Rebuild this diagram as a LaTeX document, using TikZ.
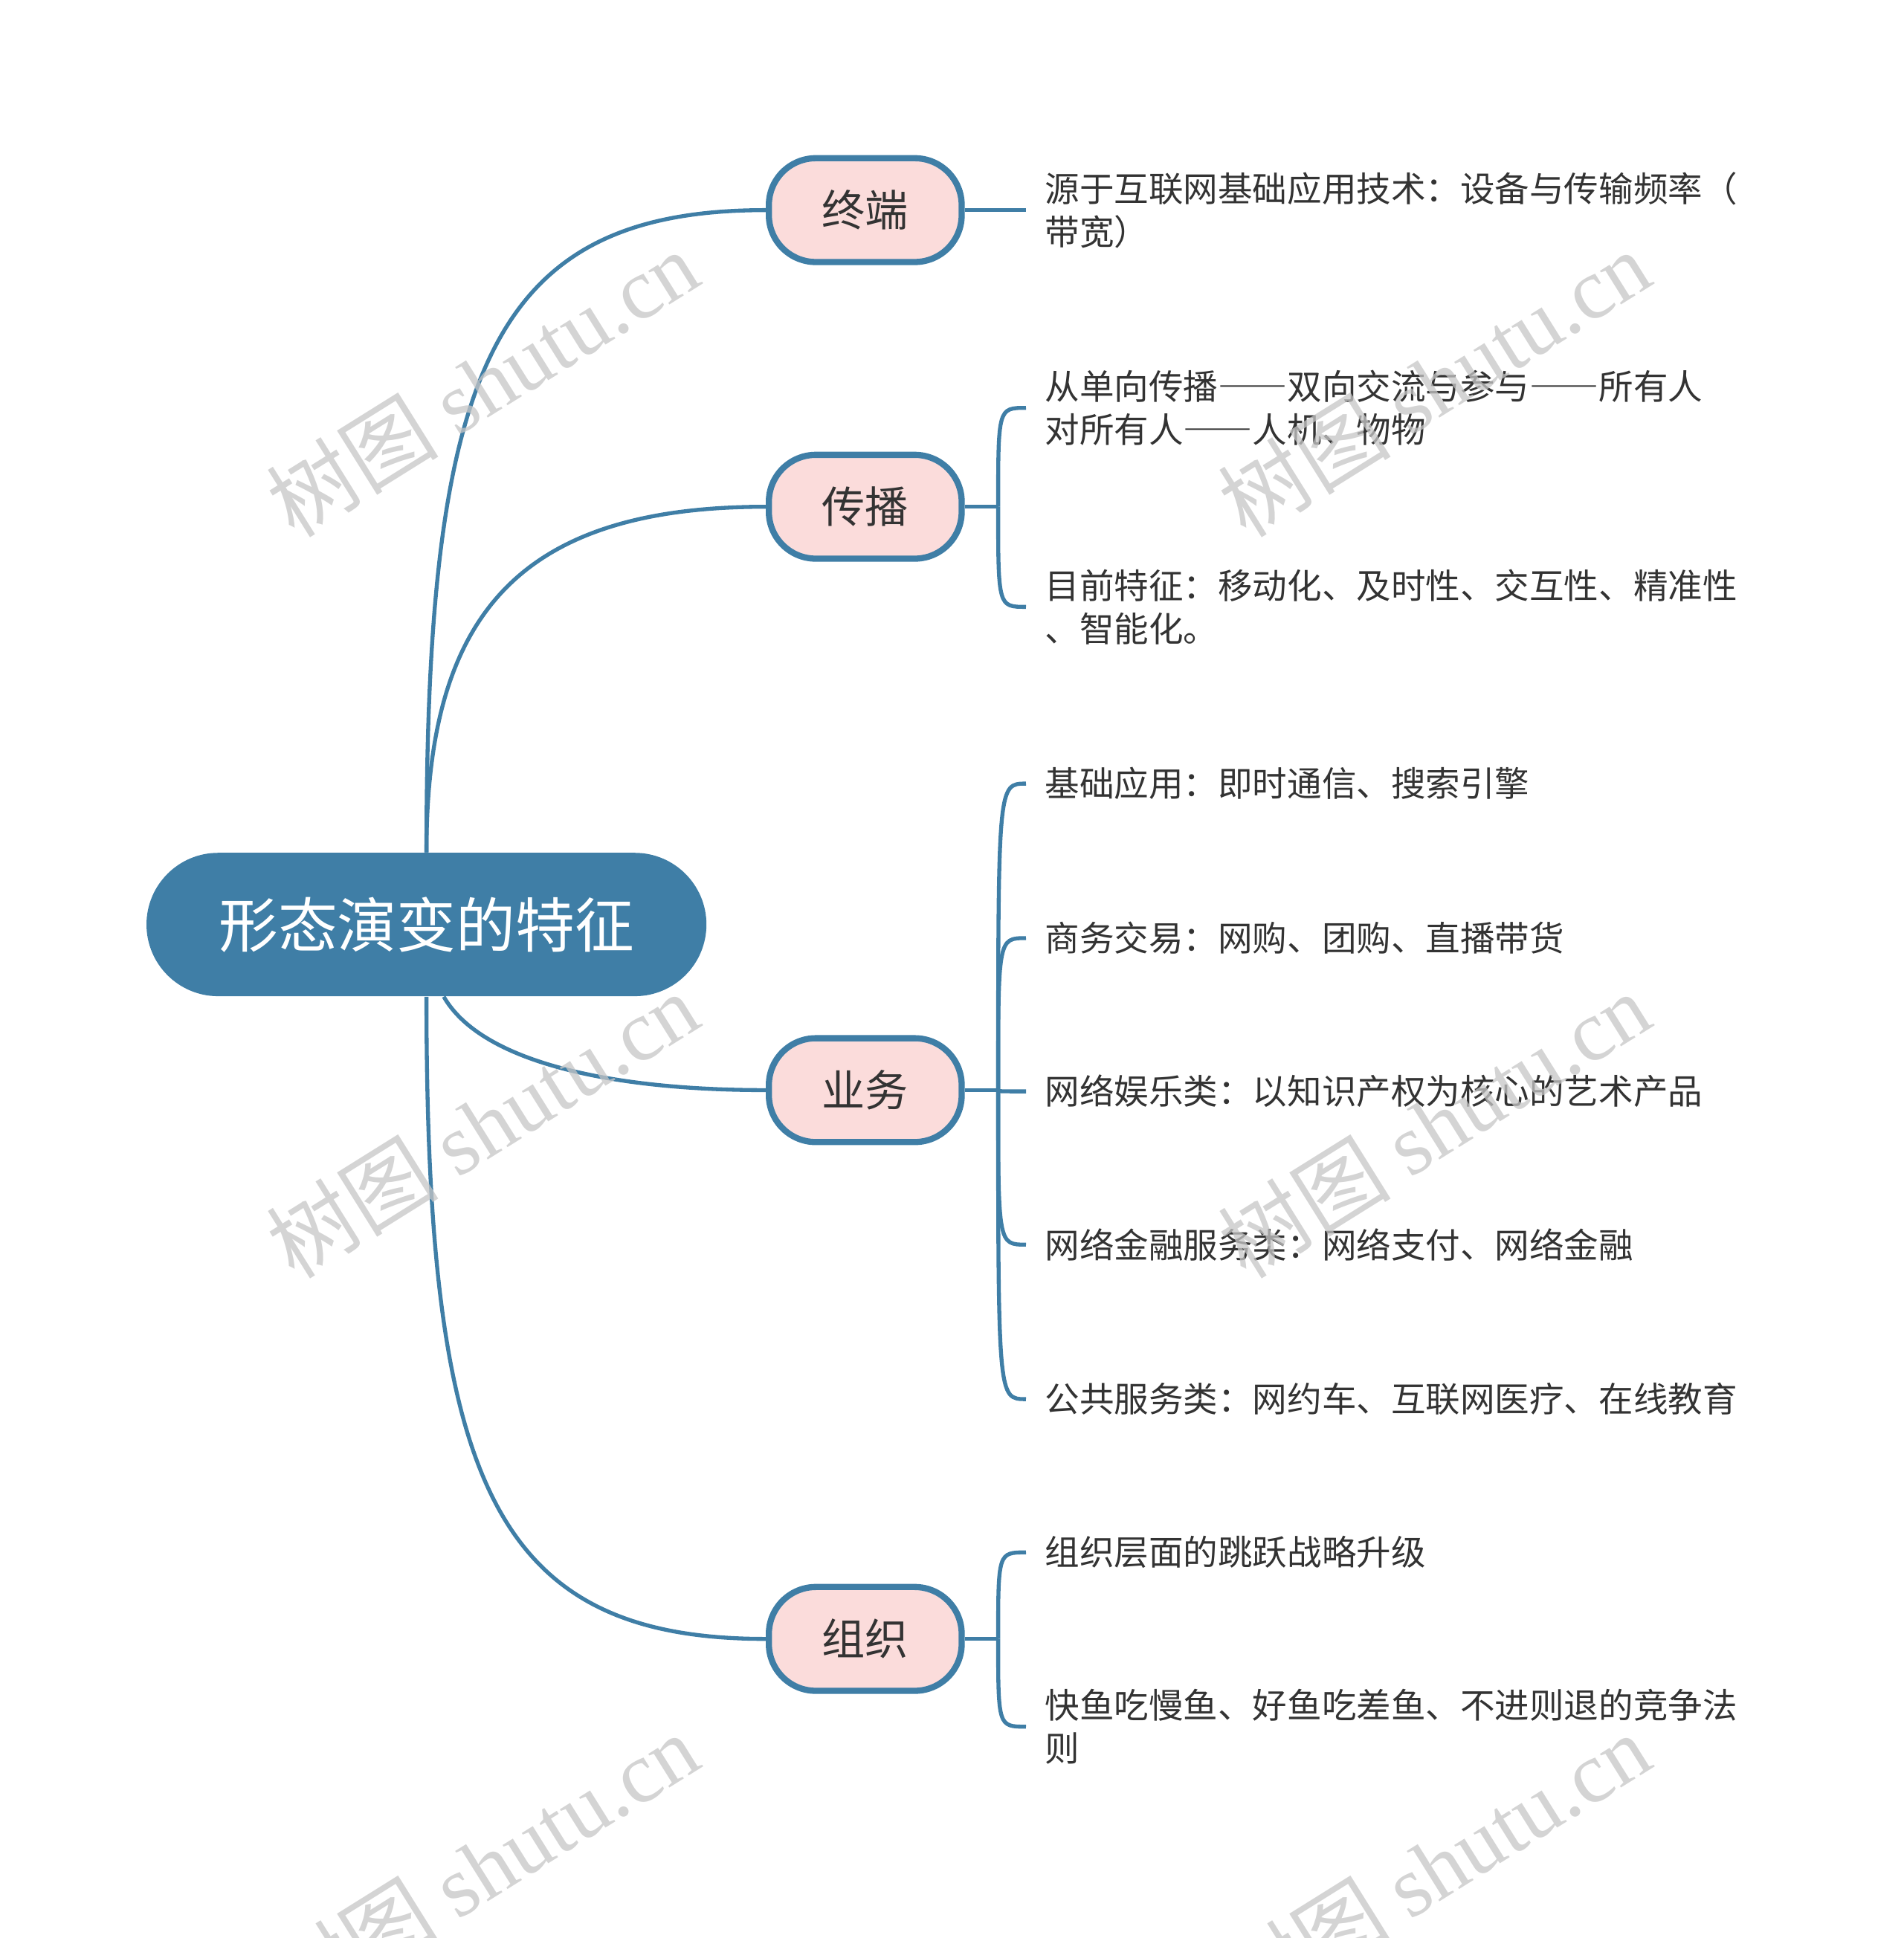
\documentclass[tikz,border=0pt]{standalone}
\usepackage{fontspec}
\setmainfont{Noto Sans CJK SC}
\newfontfamily\wmlatin{Liberation Serif}
\newcommand\wdash{{\addfontfeatures{CharacterWidth=Full}——}}
\usetikzlibrary{positioning}
\definecolor{mapblue}{HTML}{3F7EA6}
\definecolor{mappink}{HTML}{FBDCDB}
\definecolor{maptext}{HTML}{333333}

\begin{document}
\begin{tikzpicture}[x=0.5pt, y=-0.5pt,
	root/.style={fill=mapblue, rounded corners=29pt, minimum width=226.5pt, minimum height=58pt, text=white, font=\fontsize{24pt}{28pt}\selectfont},
	topic/.style={draw=mapblue, line width=2.5pt, fill=mappink, rounded corners=19pt, minimum width=78pt, minimum height=42pt, text=maptext, font=\fontsize{17.5pt}{21pt}\selectfont},
	leaf/.style={anchor=west, align=left, inner xsep=7.5pt, inner ysep=0pt, text=maptext, font=\fontsize{14pt}{17.5pt}\selectfont},
	link/.style={draw=mapblue, line width=1.6pt},
	wmark/.style={text=gray!45, opacity=0.75, rotate=32, font=\fontsize{35pt}{35pt}\selectfont}]
	\useasboundingbox (0,0) rectangle (1540,1568);
	\node[root] (root) at (345,748) {形态演变的特征};
	\node[topic] (zd) at (700,170) {终端};
	\node[topic] (cb) at (700,410) {传播};
	\node[topic] (yw) at (700,882) {业务};
	\node[topic] (zz) at (700,1326) {组织};
	\node[leaf] (zd1) at (830,170) {源于互联网基础应用技术：设备与传输频率（\\带宽）};
	\node[leaf] (cb1) at (830,330) {从单向传播\wdash 双向交流与参与\wdash 所有人\\对所有人\wdash 人机、物物};
	\node[leaf] (cb2) at (830,491) {目前特征：移动化、及时性、交互性、精准性\\、智能化。};
	\node[leaf] (yw1) at (830,634) {基础应用：即时通信、搜索引擎};
	\node[leaf] (yw2) at (830,759) {商务交易：网购、团购、直播带货};
	\node[leaf] (yw3) at (830,883) {网络娱乐类：以知识产权为核心的艺术产品};
	\node[leaf] (yw4) at (830,1007) {网络金融服务类：网络支付、网络金融};
	\node[leaf] (yw5) at (830,1132) {公共服务类：网约车、互联网医疗、在线教育};
	\node[leaf] (zz1) at (830,1256) {组织层面的跳跃战略升级};
	\node[leaf] (zz2) at (830,1397) {快鱼吃慢鱼、好鱼吃差鱼、不进则退的竞争法\\则};
	\draw[link] (root.north) .. controls +(0,-390) and +(-222,0) .. (zd.west);
	\draw[link] (root.north) .. controls +(0,-190) and +(-202,0) .. (cb.west);
	\draw[link] ([xshift=7pt]root.south) .. controls +(31,54) and +(-122,0) .. (yw.west);
	\draw[link] (root.south) .. controls +(0,390) and +(-222,0) .. (zz.west);
	\draw[link] (zd.east) -- (zd1.west);
	\path (cb.east) ++(27,0) coordinate (cbf);
	\path (yw.east) ++(27,0) coordinate (ywf);
	\path (zz.east) ++(27,0) coordinate (zzf);
	\draw[link] (cb.east) -- (cbf);
	\draw[link] (yw.east) -- (ywf);
	\draw[link] (zz.east) -- (zzf);
	\foreach \c in {cb1,cb2}
		\draw[link] (cbf) .. controls (cbf|-\c.west) .. (\c.west);
	\foreach \c in {yw1,yw2,yw3,yw4,yw5}
		\draw[link] (ywf) .. controls (ywf|-\c.west) .. (\c.west);
	\foreach \c in {zz1,zz2}
		\draw[link] (zzf) .. controls (zzf|-\c.west) .. (\c.west);
	\foreach \y [count=\i] in {310,910,1510}
		\foreach \x [count=\j] in {390,1160}
			\node[wmark] (wm\i\j) at (\x,\y) {树图 {\wmlatin shutu.cn}};
\end{tikzpicture}
\end{document}
